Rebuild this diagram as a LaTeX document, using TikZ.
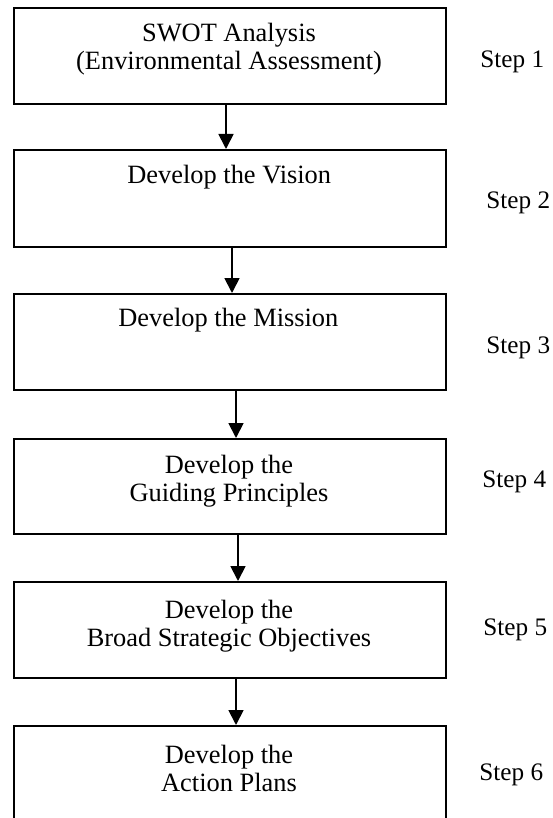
\documentclass[tikz,border=0pt]{standalone}
\usepackage{fontspec}
\setmainfont{Liberation Serif}
\usetikzlibrary{arrows.meta}
\begin{document}
\begin{tikzpicture}[x=0.5pt,y=-0.5pt,
  box/.style={draw=black, line width=0.9pt, minimum width=216pt, inner sep=0pt, anchor=north west},
  txt/.style={inner sep=0pt, align=center, font=\fontsize{13.2}{14}\selectfont},
  steplabel/.style={inner sep=0pt, anchor=west, font=\fontsize{12.6}{14}\selectfont},
  arr/.style={line width=0.9pt, -{Triangle[length=7.5pt,width=7.5pt]}}]
\clip (0,0) rectangle (552,818);
\fill[white] (0,0) rectangle (552,818);
% boxes
\node[box, minimum height=48pt] (b1) at (13,7) {};
\node[box, minimum height=48.5pt] (b2) at (13,149) {};
\node[box, minimum height=48pt] (b3) at (13,293) {};
\node[box, minimum height=47.5pt] (b4) at (13,438) {};
\node[box, minimum height=48pt] (b5) at (13,581) {};
\node[box, minimum height=60pt] (b6) at (13,725) {};
% texts
\node[txt] (t1) at (229,49) {SWOT Analysis\\(Environmental Assessment)};
\node[txt, anchor=west] (t2) at (127,177) {Develop the Vision};
\node[txt, anchor=west] (t3) at (118,320) {Develop the Mission};
\node[txt] (t4) at (229,481) {Develop the\\Guiding Principles};
\node[txt] (t5) at (229,626) {Develop the\\Broad Strategic Objectives};
\node[txt] (t6) at (229,768) {Develop the\\Action Plans};
% steps
\node[steplabel] (s1) at (480,62) {Step 1};
\node[steplabel] (s2) at (486,203) {Step 2};
\node[steplabel] (s3) at (486,348) {Step 3};
\node[steplabel] (s4) at (482,482) {Step 4};
\node[steplabel] (s5) at (483,630) {Step 5};
\node[steplabel] (s6) at (479,775) {Step 6};
% arrows
\coordinate (x1) at (226,0);
\coordinate (x2) at (232,0);
\coordinate (x3) at (236,0);
\coordinate (x4) at (238,0);
\coordinate (x5) at (236,0);
\draw[arr] (b1.south -| x1) -- (b2.north -| x1);
\draw[arr] (b2.south -| x2) -- (b3.north -| x2);
\draw[arr] (b3.south -| x3) -- (b4.north -| x3);
\draw[arr] (b4.south -| x4) -- (b5.north -| x4);
\draw[arr] (b5.south -| x5) -- (b6.north -| x5);
\end{tikzpicture}
\end{document}
